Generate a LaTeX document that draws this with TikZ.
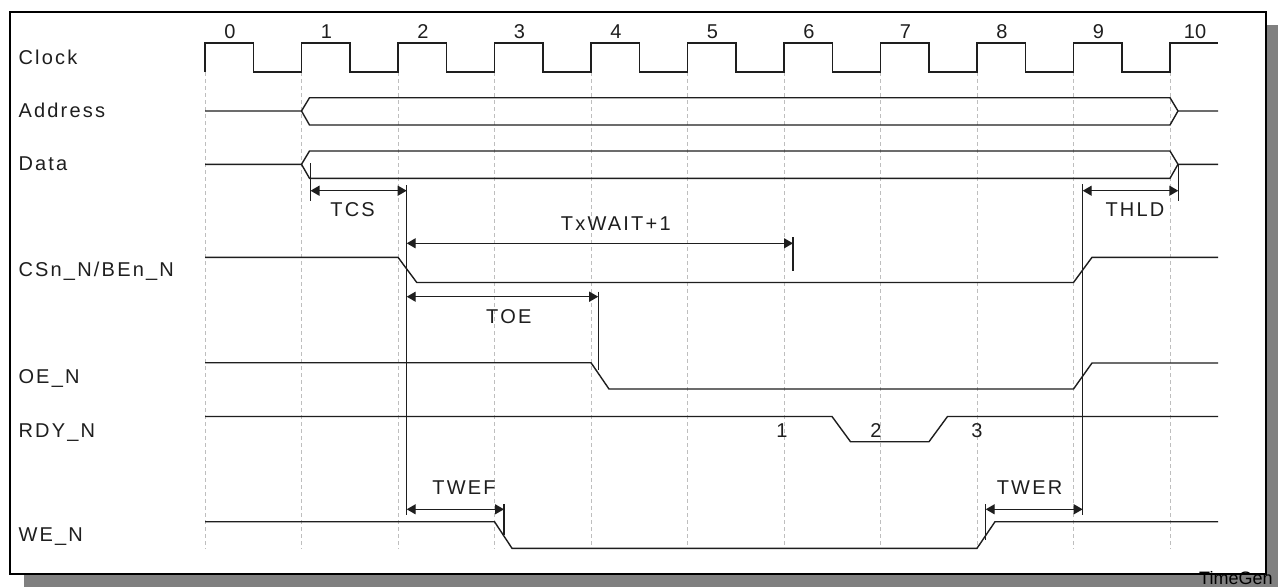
\documentclass[tikz,border=0pt]{standalone}
\usepackage{fontspec}
\newfontfamily\labfont[LetterSpace=11]{Liberation Sans}
\newfontfamily\plainsans{Liberation Sans}
\usetikzlibrary{arrows.meta}
\definecolor{sig}{HTML}{1E1E1E}
\definecolor{gridc}{HTML}{BEBEBE}
\definecolor{shadowc}{HTML}{808080}
\begin{document}
\begin{tikzpicture}[x=1pt,y=-1pt,
  sigline/.style={draw=sig, line width=1.4pt, line join=miter},
  gridline/.style={draw=gridc, line width=0.9pt, dash pattern=on 4pt off 3pt},
  refline/.style={draw=sig, line width=1.4pt},
  dimarrow/.style={draw=sig, line width=1.4pt, {Triangle[length=9pt,width=10pt]}-{Triangle[length=9pt,width=10pt]}},
  siglabel/.style={anchor=base west, inner sep=0pt, font=\labfont\fontsize{20}{24}\selectfont, text=sig},
  annlabel/.style={anchor=base, inner sep=0pt, font=\labfont\fontsize{20}{24}\selectfont, text=sig},
  numlabel/.style={anchor=base, inner sep=0pt, font=\plainsans\fontsize{20}{24}\selectfont, text=sig}]
\useasboundingbox (0,0) rectangle (1278,587);
% frame with shadow
\fill[shadowc] (24,25) rectangle (1278,587);
\draw[fill=white, line width=1.6pt, draw=black] (10,12) rectangle (1266,574);
% grid
\foreach \k in {0,...,10} \draw[gridline] ({205+96.5*\k},72) -- ({205+96.5*\k},549);
% signal labels
\node[siglabel] (lclk) at (18.3,64) {Clock};
\node[siglabel] (ladr) at (18.3,117.3) {Address};
\node[siglabel] (ldat) at (18.3,170.7) {Data};
\node[siglabel] (lcs) at (18.3,276.7) {CSn\_N/BEn\_N};
\node[siglabel] (loe) at (18.3,383) {OE\_N};
\node[siglabel] (lrdy) at (18.3,437) {RDY\_N};
\node[siglabel] (lwe) at (18.3,541.7) {WE\_N};
% clock
\draw[sigline] (205,72) \foreach \k in {0,...,9} { -- ++(0,-29) -- ++(48.3,0) -- ++(0,29) -- ++(48.2,0) } -- ++(0,-29) -- (1218,43);
\foreach \k in {0,...,10} \node[numlabel] (n\k) at ({205+96.5*\k+25},38.8) {\k};
% address
\draw[sigline] (205,111) -- (301.5,111) -- (309.5,97.7) -- (1170,97.7) -- (1178,111) -- (1218,111);
\draw[sigline] (301.5,111) -- (309.5,125) -- (1170,125) -- (1178,111);
% data
\draw[sigline] (205,164.3) -- (301.5,164.3) -- (309.5,151) -- (1170,151) -- (1178,164.3) -- (1218,164.3);
\draw[sigline] (301.5,164.3) -- (309.5,178.3) -- (1170,178.3) -- (1178,164.3);
% CSn
\draw[sigline] (205,257.3) -- (398,257.3) -- (416.8,282.5) -- (1073.5,282.5) -- (1092,257.3) -- (1218,257.3);
% OE
\draw[sigline] (205,362.7) -- (591,362.7) -- (609,389) -- (1073.5,389) -- (1092,363) -- (1218,363);
% RDY
\draw[sigline] (205,416.5) -- (832,416.5) -- (850.5,441.7) -- (929,441.7) -- (947.5,416.5) -- (1218,416.5);
\node[numlabel] (r1) at (782,437) {1};
\node[numlabel] (r2) at (876,437) {2};
\node[numlabel] (r3) at (977,437) {3};
% WE
\draw[sigline] (205,521.7) -- (494.5,521.7) -- (512,548.3) -- (977,548.3) -- (995,521.7) -- (1218,521.7);
% reference lines
\draw[refline] (310.5,163) -- (310.5,200.7);
\draw[refline] (406.7,185) -- (406.7,515);
\draw[refline] (793,237) -- (793,271);
\draw[refline] (598.2,291.7) -- (598.2,370);
\draw[refline] (504,504) -- (504,535);
\draw[refline] (985.7,504) -- (985.7,540);
\draw[refline] (1082.7,184) -- (1082.7,515);
\draw[refline] (1178.3,164) -- (1178.3,200.7);
% dimension coordinates
\coordinate (tcsA) at (310.5,190.7);
\coordinate (tcsB) at (406.7,190.7);
\coordinate (thlA) at (1082.7,190.7);
\coordinate (thlB) at (1178.3,190.7);
\coordinate (twA) at (406.7,243.3);
\coordinate (twB) at (793,243.3);
\coordinate (toeA) at (406.7,296.7);
\coordinate (toeB) at (598.2,296.7);
\coordinate (twefA) at (406.7,509.3);
\coordinate (twefB) at (504,509.3);
\coordinate (twerA) at (985.7,509.3);
\coordinate (twerB) at (1082.7,509.3);
\draw[dimarrow] (tcsA) -- (tcsB);
\draw[dimarrow] (thlA) -- (thlB);
\draw[dimarrow] (twA) -- (twB);
\draw[dimarrow] (toeA) -- (toeB);
\draw[dimarrow] (twefA) -- (twefB);
\draw[dimarrow] (twerA) -- (twerB);
\node[annlabel] (ltcs) at (352.6,216.7) {TCS};
\node[annlabel] (lthld) at (1135,216.7) {THLD};
\node[annlabel] (ltw) at (615.8,230.5) {TxWAIT+1};
\node[annlabel] (ltoe) at (508.8,323) {TOE};
\node[annlabel] (ltwef) at (464,494) {TWEF};
\node[annlabel] (ltwer) at (1029.5,494.5) {TWER};
% footer
\node[anchor=base west, inner sep=0pt, font=\plainsans\fontsize{18}{22}\selectfont, text=black] (tg) at (1199,584) {TimeGen};
\end{tikzpicture}
\end{document}
